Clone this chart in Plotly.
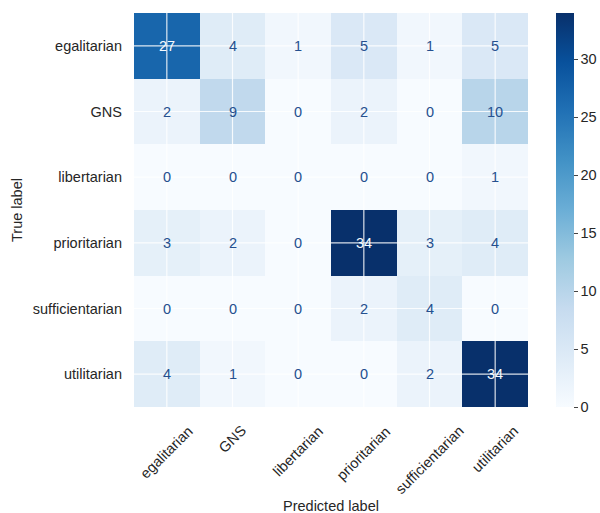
import plotly.graph_objects as go

# Class labels (rows = true, columns = predicted)
labels = ["egalitarian", "GNS", "libertarian", "prioritarian", "sufficientarian", "utilitarian"]

# Confusion-matrix counts, one list per true label
row_egalitarian = [27, 4, 1, 5, 1, 5]
row_gns = [2, 9, 0, 2, 0, 10]
row_libertarian = [0, 0, 0, 0, 0, 1]
row_prioritarian = [3, 2, 0, 34, 3, 4]
row_sufficientarian = [0, 0, 0, 2, 4, 0]
row_utilitarian = [4, 1, 0, 0, 2, 34]
counts = [row_egalitarian, row_gns, row_libertarian,
          row_prioritarian, row_sufficientarian, row_utilitarian]

colorbar_ticks = [0, 5, 10, 15, 20, 25, 30]

# matplotlib "Blues" colormap
blues = ["#f7fbff", "#deebf7", "#c6dbef", "#9ecae1", "#6baed6",
         "#4292c6", "#2171b5", "#08519c", "#08306b"]
colorscale = [[i / (len(blues) - 1), c] for i, c in enumerate(blues)]

FONT = "Arial, Liberation Sans, sans-serif"
FS = 14.5
TXT = "#262626"

zmin = 0
zmax = max(max(r) for r in counts)

idx = list(range(len(labels)))

fig = go.Figure(go.Heatmap(
    z=counts, x=idx, y=idx,
    zmin=zmin, zmax=zmax,
    colorscale=colorscale,
    hoverinfo="skip",
    colorbar=dict(
        x=556 / 600, xanchor="left", xref="container",
        y=0.5, yanchor="middle", len=1.0, lenmode="fraction",
        thickness=18, outlinewidth=0, xpad=0, ypad=0,
        tickvals=colorbar_ticks, ticks="outside", ticklen=4,
        tickcolor="#444444", tickwidth=1,
        tickfont=dict(family=FONT, size=FS, color=TXT),
    ),
))

# White grid lines through the cell centres, drawn over the cells
shapes = []
for i in idx:
    shapes.append(dict(type="line", xref="x", yref="y", x0=i, x1=i, y0=-0.5, y1=len(labels) - 0.5,
                       line=dict(color="rgba(255,255,255,0.85)", width=1.2), layer="above"))
    shapes.append(dict(type="line", xref="x", yref="y", y0=i, y1=i, x0=-0.5, x1=len(labels) - 0.5,
                       line=dict(color="rgba(255,255,255,0.85)", width=1.2), layer="above"))

annotations = []
thresh = (zmax + zmin) / 2
for r, row in enumerate(counts):
    for c, v in enumerate(row):
        annotations.append(dict(
            x=c, y=r, xref="x", yref="y", text=str(v), showarrow=False,
            font=dict(family=FONT, size=FS, color="#f7fbff" if v > thresh else "#25508f"),
        ))

# Rotated x tick labels, centred on each column
for c, lab in enumerate(labels):
    annotations.append(dict(
        x=c, y=0, xref="x", yref="paper", yanchor="top", xanchor="center",
        yshift=-13, text=lab, textangle=-45, showarrow=False,
        font=dict(family=FONT, size=FS, color=TXT),
    ))

# Axis titles
annotations.append(dict(x=0.5, y=0, xref="paper", yref="paper", yanchor="middle",
                        yshift=-99, text="Predicted label", showarrow=False,
                        font=dict(family=FONT, size=FS, color=TXT)))
annotations.append(dict(x=0, y=0.5, xref="paper", yref="paper", xanchor="center",
                        xshift=-117, text="True label", textangle=-90, showarrow=False,
                        font=dict(family=FONT, size=FS, color=TXT)))

fig.update_layout(
    width=600, height=513,
    margin=dict(l=134, r=72, t=13, b=106, autoexpand=False),
    paper_bgcolor="white", plot_bgcolor="white",
    shapes=shapes, annotations=annotations,
    xaxis=dict(range=[-0.5, 5.5], showgrid=False, zeroline=False, showticklabels=False,
               ticks="", showline=False, fixedrange=True),
    yaxis=dict(range=[5.5, -0.5], showgrid=False, zeroline=False,
               tickvals=idx, ticktext=labels, ticks="", ticklabelstandoff=11,
               tickfont=dict(family=FONT, size=FS, color=TXT),
               showline=False, fixedrange=True),
    showlegend=False,
)

fig.write_html("out.html")
